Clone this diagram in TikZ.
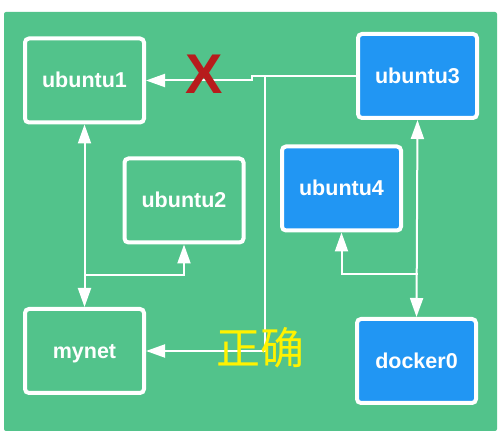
\documentclass[tikz,border=0pt]{standalone}
\usepackage{fontspec}
\setmainfont{Liberation Sans}
\newfontfamily\cjk{Noto Sans CJK SC}
\usetikzlibrary{arrows.meta, positioning}
\definecolor{netgreen}{HTML}{52C38B}
\definecolor{hostblue}{HTML}{2196F3}
\definecolor{crossred}{HTML}{B71C1C}

\begin{document}
\begin{tikzpicture}[x=1pt, y=-1pt, >={Triangle[length=19pt, width=13pt]}]
    \tikzstyle{box} = [rectangle, rounded corners=4pt, draw=white, line width=4pt, minimum width=119pt, minimum height=84pt, text height=15.5pt, text depth=0.5pt, text=white, font=\bfseries\fontsize{21.5}{24}\selectfont]
    \tikzstyle{link} = [draw=white, line width=2pt]

    \useasboundingbox (0,0) rectangle (501,435);
    \fill[netgreen, rounded corners=2pt] (4,12) rectangle (497,431);

    % containers
    \node[box, fill=netgreen] (u1) at (84.5,80.5) {ubuntu1};
    \node[box, fill=netgreen] (u2) at (184,200.5) {ubuntu2};
    \node[box, fill=netgreen] (mynet) at (84.5,351) {mynet};
    \node[box, fill=hostblue] (u3) at (417.5,76) {ubuntu3};
    \node[box, fill=hostblue] (u4) at (341.5,188.5) {ubuntu4};
    \node[box, fill=hostblue] (docker0) at (416.5,361) {docker0};

    % mynet side
    \draw[link, <->] (u1.south) -- (mynet.north);
    \draw[link, ->] (u1.south) ++(0,151) -| (u2.south);

    % docker0 side
    \draw[link, <->] (u3.south) -- (docker0.north);
    \draw[link, ->] (u3.south) ++(0,154) -| (u4.south);

    % ubuntu3 to the left
    \draw[link, ->] (u3.west) -- ++(-104,0) |- (u1.east);
    \draw[link, ->] (u3.west) ++(-91.5,0) |- (mynet.east);

    \node[text=crossred, inner sep=0pt, font=\bfseries\fontsize{56}{56}\selectfont] (cross) at (204,74.5) {X};
    \node[text=yellow, inner sep=0pt, font=\cjk\fontsize{44}{44}\selectfont] (ok) at (260.5,348) {正确};
\end{tikzpicture}
\end{document}
